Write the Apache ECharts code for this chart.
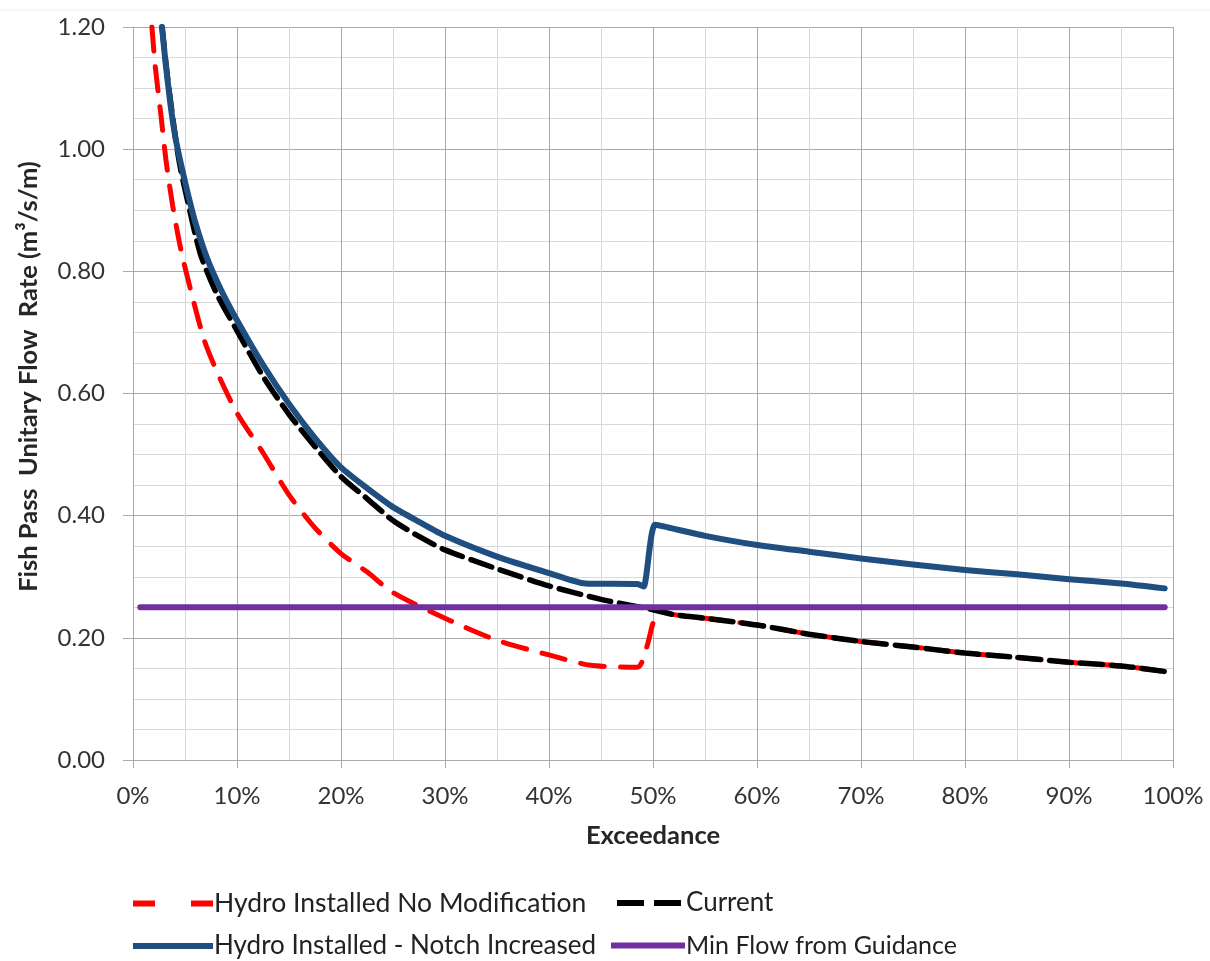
<!DOCTYPE html>
<html>
<head>
<meta charset="utf-8">
<script src="https://cdn.jsdelivr.net/npm/echarts@6/dist/echarts.min.js"></script>
<style>
html,body{margin:0;padding:0;background:#fff;}
#chart{width:1210px;height:961px;}
</style>
</head>
<body>
<div id="chart"></div>
<script>
// ---- Data ----
const xTicksMax = 100;
const seriesNames = ['Hydro Installed No Modification', 'Current', 'Hydro Installed - Notch Increased', 'Min Flow from Guidance'];

const noModX = [1.82, 2.14, 2.69, 3.17, 3.81, 4.61, 5.67, 6.86, 8.14, 10, 12.5, 15, 17.5, 20, 22.5, 25, 30, 35, 40, 44, 48.5, 49.4, 50, 50.6, 52, 55, 60, 65, 70, 75, 80, 85, 90, 95, 99.2];
const noModY = [1.20, 1.135, 1.055, 0.982, 0.908, 0.835, 0.761, 0.687, 0.633, 0.568, 0.503, 0.434, 0.380, 0.338, 0.308, 0.274, 0.232, 0.196, 0.172, 0.155, 0.152, 0.185, 0.224, 0.244, 0.238, 0.232, 0.221, 0.206, 0.194, 0.185, 0.175, 0.168, 0.160, 0.154, 0.145];

const currentX = [2.79, 3.3, 4.07, 4.55, 5.19, 6.47, 8, 10, 12.5, 15, 17.5, 20, 22.5, 25, 27.5, 30, 35, 40, 45, 50, 52, 55, 60, 65, 70, 75, 80, 85, 90, 95, 99.2];
const currentY = [1.20, 1.12, 1.02, 0.97, 0.92, 0.829, 0.765, 0.703, 0.628, 0.566, 0.513, 0.464, 0.428, 0.392, 0.366, 0.344, 0.313, 0.285, 0.263, 0.246, 0.238, 0.232, 0.221, 0.206, 0.194, 0.185, 0.175, 0.168, 0.160, 0.154, 0.145];

const notchX = [2.79, 3.11, 3.59, 4.07, 4.55, 5.19, 5.99, 7.11, 8.4, 10, 12.5, 15, 17.5, 20, 22.5, 25, 27.5, 30, 35, 40, 43.5, 48.5, 49.1, 50.2, 52.4, 55, 60, 65, 70, 75, 80, 85, 90, 95, 99.2];
const notchY = [1.20, 1.145, 1.075, 1.02, 0.98, 0.933, 0.88, 0.822, 0.772, 0.72, 0.647, 0.583, 0.527, 0.479, 0.445, 0.414, 0.39, 0.367, 0.333, 0.306, 0.289, 0.288, 0.284, 0.385, 0.377, 0.367, 0.352, 0.341, 0.330, 0.320, 0.311, 0.304, 0.296, 0.289, 0.281];

const minFlowX = [0.7, 99.2];
const minFlowY = [0.25, 0.25];

function pairs(xs, ys) { return xs.map((x, i) => [x, ys[i]]); }

const FONT = 'Lato';
const chart = echarts.init(document.getElementById('chart'), null, {renderer: 'canvas'});

const majorColor = '#a9a9a9';
const minorColor = '#d9d9d9';
const legendText = {fontFamily: FONT, fontSize: 26, color: '#222'};

const option = {
  animation: false,
  backgroundColor: '#ffffff',
  textStyle: {fontFamily: FONT},
  graphic: [{
    type: 'line', shape: {x1: 0, y1: 10, x2: 1210, y2: 10},
    style: {stroke: '#ececec', lineWidth: 1}, silent: true
  }],
  grid: {left: 133, right: 37, top: 27, bottom: 201, containLabel: false},
  xAxis: {
    type: 'value', min: 0, max: xTicksMax, interval: 10,
    name: 'Exceedance', nameLocation: 'middle', nameGap: 63,
    nameTextStyle: {fontFamily: FONT, fontWeight: 'bold', fontSize: 25.5, color: '#262626'},
    axisLine: {show: true, lineStyle: {color: majorColor, width: 1}},
    axisTick: {show: true, length: 8, lineStyle: {color: majorColor}},
    axisLabel: {formatter: '{value}%', margin: 24, fontFamily: FONT, fontSize: 24, color: '#333333'},
    splitLine: {show: true, lineStyle: {color: majorColor, width: 1}},
    minorTick: {show: false, splitNumber: 2},
    minorSplitLine: {show: true, lineStyle: {color: minorColor, width: 1}}
  },
  yAxis: {
    type: 'value', min: 0, max: 1.2, interval: 0.2,
    name: 'Fish Pass  Unitary Flow  Rate (m\u00B3/s/m)', nameLocation: 'middle', nameGap: 91,
    nameTextStyle: {fontFamily: FONT, fontWeight: 'bold', fontSize: 25.5, color: '#262626', padding: [0, 0, 0, 34]},
    axisLine: {show: true, lineStyle: {color: majorColor, width: 1}},
    axisTick: {show: true, length: 10, lineStyle: {color: majorColor}},
    axisLabel: {formatter: v => v.toFixed(2), margin: 28, fontFamily: FONT, fontSize: 24, color: '#333333'},
    splitLine: {show: true, lineStyle: {color: majorColor, width: 1}},
    minorTick: {show: false, splitNumber: 4},
    minorSplitLine: {show: true, lineStyle: {color: minorColor, width: 1}}
  },
  legend: [
    {data: [seriesNames[0]], left: 128, top: 885, itemWidth: 80, itemHeight: 6,
     icon: 'path://M0,0h22v6h-22z M58,0h22v6h-22z',
     textStyle: Object.assign({}, legendText, {fontSize: 26.5, padding: [0, 0, 0, -4]})},
    {data: [seriesNames[1]], left: 612, top: 885, itemWidth: 64, itemHeight: 6,
     icon: 'path://M0,0h27v6h-27z M37,0h27v6h-27z',
     textStyle: Object.assign({}, legendText, {padding: [0, 0, 0, 0]})},
    {data: [seriesNames[2]], left: 128, top: 928, itemWidth: 80, itemHeight: 6,
     icon: 'path://M0,0h80v6h-80z',
     textStyle: Object.assign({}, legendText, {padding: [0, 0, 0, -4]})},
    {data: [seriesNames[3]], left: 606, top: 928, itemWidth: 74, itemHeight: 6,
     icon: 'path://M0,0h74v6h-74z',
     textStyle: Object.assign({}, legendText, {fontSize: 25, padding: [0, 0, 0, -4]})}
  ],
  series: [
    {name: seriesNames[0], type: 'line', data: pairs(noModX, noModY), showSymbol: false, symbol: 'none',
     smooth: 0.25, color: '#ff0000', lineStyle: {color: '#ff0000', width: 5, type: [24, 16], cap: 'round'}},
    {name: seriesNames[1], type: 'line', data: pairs(currentX, currentY), showSymbol: false, symbol: 'none',
     smooth: 0.25, color: '#000000', lineStyle: {color: '#000000', width: 5.5, type: [22, 9], cap: 'round'}},
    {name: seriesNames[2], type: 'line', data: pairs(notchX, notchY), showSymbol: false, symbol: 'none',
     smooth: 0.2, color: '#1f4e80', lineStyle: {color: '#1f4e80', width: 6, cap: 'round', join: 'round'}},
    {name: seriesNames[3], type: 'line', data: pairs(minFlowX, minFlowY), showSymbol: false, symbol: 'none',
     color: '#7030a0', lineStyle: {color: '#7030a0', width: 6, cap: 'round'}}
  ]
};
chart.setOption(option);
</script>
</body>
</html>
